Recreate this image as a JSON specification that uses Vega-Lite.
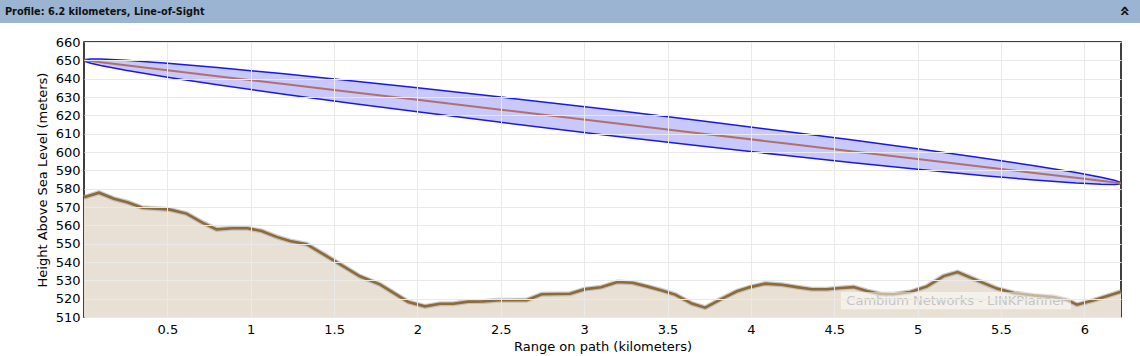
{
  "$schema": "https://vega.github.io/schema/vega-lite/v6.json",
  "padding": 0,
  "background": "white",
  "bounds": "flush",
  "spacing": 19,
  "config": {
    "font": "DejaVu Sans",
    "view": {"stroke": null},
    "axisY": {"labelOverlap": false, "tickCount": 40},
    "axisX": {"labelOverlap": false, "tickCount": 40}
  },
  "datasets": {
    "terrain": [
      {"d": 0, "elev": 575.3}, {"d": 0.09, "elev": 577.8}, {"d": 0.18, "elev": 574.5}, {"d": 0.26, "elev": 572.6},
      {"d": 0.35, "elev": 569.6}, {"d": 0.51, "elev": 568.7}, {"d": 0.615, "elev": 566.4}, {"d": 0.71, "elev": 561.5},
      {"d": 0.795, "elev": 557.8}, {"d": 0.89, "elev": 558.4}, {"d": 0.98, "elev": 558.4}, {"d": 1.065, "elev": 556.9},
      {"d": 1.155, "elev": 553.7}, {"d": 1.235, "elev": 551.5}, {"d": 1.335, "elev": 549.7}, {"d": 1.5, "elev": 540.8},
      {"d": 1.655, "elev": 532.2}, {"d": 1.775, "elev": 527.8}, {"d": 1.945, "elev": 518.2}, {"d": 2.045, "elev": 515.8},
      {"d": 2.135, "elev": 517.2}, {"d": 2.215, "elev": 517.2}, {"d": 2.305, "elev": 518.4}, {"d": 2.395, "elev": 518.5},
      {"d": 2.485, "elev": 519.1}, {"d": 2.655, "elev": 519.2}, {"d": 2.745, "elev": 522.4}, {"d": 2.915, "elev": 522.7},
      {"d": 3.005, "elev": 525.2}, {"d": 3.1, "elev": 526.2}, {"d": 3.2, "elev": 529.1}, {"d": 3.29, "elev": 528.7},
      {"d": 3.376, "elev": 526.7}, {"d": 3.466, "elev": 524.5}, {"d": 3.546, "elev": 522.2}, {"d": 3.646, "elev": 517.3},
      {"d": 3.726, "elev": 515.1}, {"d": 3.816, "elev": 519.5}, {"d": 3.916, "elev": 524.0}, {"d": 3.996, "elev": 526.3},
      {"d": 4.086, "elev": 528.2}, {"d": 4.186, "elev": 527.6}, {"d": 4.276, "elev": 526.3}, {"d": 4.366, "elev": 525.1},
      {"d": 4.456, "elev": 525.1}, {"d": 4.536, "elev": 525.8}, {"d": 4.616, "elev": 526.3}, {"d": 4.696, "elev": 524.2},
      {"d": 4.776, "elev": 522.6}, {"d": 4.856, "elev": 522.4}, {"d": 4.956, "elev": 523.6}, {"d": 5.056, "elev": 526.7},
      {"d": 5.156, "elev": 532.3}, {"d": 5.24, "elev": 534.5}, {"d": 5.357, "elev": 530.0}, {"d": 5.477, "elev": 525.5},
      {"d": 5.576, "elev": 523.1}, {"d": 5.697, "elev": 521.8}, {"d": 5.816, "elev": 520.9}, {"d": 5.896, "elev": 519.3},
      {"d": 5.956, "elev": 516.7}, {"d": 6.056, "elev": 519.1}, {"d": 6.22, "elev": 523.8}
    ],
    "fresnel": [
      {"d": 0, "los": 650, "lo": 650, "hi": 650},
      {"d": 0.01, "los": 649.89, "lo": 649.33, "hi": 650.45},
      {"d": 0.04, "los": 649.57, "lo": 648.45, "hi": 650.69},
      {"d": 0.1, "los": 648.92, "lo": 647.15, "hi": 650.69},
      {"d": 0.25, "los": 647.31, "lo": 644.55, "hi": 650.07},
      {"d": 0.5, "los": 644.61, "lo": 640.79, "hi": 648.43},
      {"d": 0.8, "los": 641.38, "lo": 636.67, "hi": 646.09},
      {"d": 1.2, "los": 637.07, "lo": 631.52, "hi": 642.62},
      {"d": 1.6, "los": 632.76, "lo": 626.61, "hi": 638.91},
      {"d": 2.0, "los": 628.46, "lo": 621.89, "hi": 635.03},
      {"d": 2.5, "los": 623.07, "lo": 616.17, "hi": 629.97},
      {"d": 3.11, "los": 616.5, "lo": 609.47, "hi": 623.53},
      {"d": 3.7, "los": 610.14, "lo": 603.24, "hi": 617.05},
      {"d": 4.2, "los": 604.76, "lo": 598.17, "hi": 611.35},
      {"d": 4.6, "los": 600.45, "lo": 594.28, "hi": 606.62},
      {"d": 5.0, "los": 596.14, "lo": 590.56, "hi": 601.73},
      {"d": 5.4, "los": 591.83, "lo": 587.07, "hi": 596.59},
      {"d": 5.7, "los": 588.6, "lo": 584.71, "hi": 592.49},
      {"d": 5.95, "los": 585.91, "lo": 583.04, "hi": 588.78},
      {"d": 6.1, "los": 584.29, "lo": 582.36, "hi": 586.23},
      {"d": 6.18, "los": 583.43, "lo": 582.31, "hi": 584.55},
      {"d": 6.21, "los": 583.11, "lo": 582.55, "hi": 583.67},
      {"d": 6.22, "los": 583, "lo": 583, "hi": 583}
    ],
    "header": [{"label": "Profile: 6.2 kilometers, Line-of-Sight", "icon": "»"}],
    "wmk": [{"wm": "Cambium Networks - LINKPlanner", "wx": 5.23, "wy": 518.9, "bx1": 4.54, "bx2": 5.92, "by1": 514.2, "by2": 523.6}]
  },
  "vconcat": [
    {
      "width": 1140,
      "height": 23,
      "view": {"fill": "#9ab4d2", "stroke": null},
      "data": {"name": "header"},
      "layer": [
        {
          "mark": {"type": "text", "align": "left", "baseline": "middle", "fontWeight": "bold", "fontSize": 10.8, "font": "DejaVu Sans Condensed", "color": "#111111"},
          "encoding": {"text": {"field": "label"}, "x": {"value": 5}, "y": {"value": 11.5}}
        },
        {
          "mark": {"type": "text", "align": "center", "baseline": "middle", "fontWeight": "bold", "fontSize": 17, "angle": 270, "color": "#111111"},
          "encoding": {"text": {"field": "icon"}, "x": {"value": 1125}, "y": {"value": 11}}
        }
      ]
    },
    {
      "bounds": "flush",
      "spacing": 0,
      "hconcat": [
        {
          "width": 84,
          "height": 275,
          "view": {"stroke": null},
          "data": {"values": []},
          "mark": "text",
          "encoding": {}
        },
        {
          "width": 1037,
          "height": 275,
          "view": {"stroke": "#000000", "strokeWidth": 1.5},
          "encoding": {
            "x": {
              "field": "d", "type": "quantitative",
              "scale": {"domain": [0, 6.22], "nice": false, "zero": false},
              "axis": {
                "title": "Range on path (kilometers)",
                "values": [0.5, 1, 1.5, 2, 2.5, 3, 3.5, 4, 4.5, 5, 5.5, 6],
                "tickCount": 40,
                "format": "~g",
                "labelFontSize": 13, "titleFontSize": 13, "titleFontWeight": "normal",
                "labelColor": "#000000", "titleColor": "#000000",
                "ticks": false, "domain": false, "labelPadding": 6, "titlePadding": 4,
                "gridColor": "#e9e9e9", "zindex": 1
              }
            },
            "y": {
              "field": "elev", "type": "quantitative",
              "scale": {"domain": [510, 660], "nice": false, "zero": false},
              "axis": {
                "title": "Height Above Sea Level (meters)",
                "values": [510, 520, 530, 540, 550, 560, 570, 580, 590, 600, 610, 620, 630, 640, 650, 660],
                "tickCount": 40,
                "labelOverlap": false,
                "labelFontSize": 13, "titleFontSize": 13, "titleFontWeight": "normal",
                "labelColor": "#000000", "titleColor": "#000000",
                "ticks": false, "domain": false, "labelPadding": 4, "titlePadding": 6,
                "gridColor": "#e9e9e9", "zindex": 1
              }
            }
          },
          "layer": [
            {
              "data": {"name": "terrain"},
              "mark": {"type": "area", "color": "#e9e0d5"},
              "encoding": {"y2": {"datum": 510}}
            },
            {
              "data": {"name": "fresnel"},
              "mark": {"type": "area", "color": "#c8c8fa"},
              "encoding": {"y": {"field": "lo", "type": "quantitative"}, "y2": {"field": "hi"}}
            },
            {
              "data": {"name": "terrain"},
              "mark": {"type": "line", "color": "#a8a8a8", "strokeWidth": 5, "opacity": 0.6},
              "encoding": {}
            },
            {
              "data": {"name": "terrain"},
              "mark": {"type": "line", "color": "#8d6a36", "strokeWidth": 2.6},
              "encoding": {}
            },
            {
              "data": {"name": "fresnel"},
              "mark": {"type": "line", "color": "#1818e8", "strokeWidth": 1.5},
              "encoding": {"y": {"field": "hi", "type": "quantitative"}}
            },
            {
              "data": {"name": "fresnel"},
              "mark": {"type": "line", "color": "#1818e8", "strokeWidth": 1.5},
              "encoding": {"y": {"field": "lo", "type": "quantitative"}}
            },
            {
              "data": {"name": "fresnel"},
              "mark": {"type": "line", "color": "#b07268", "strokeWidth": 2},
              "encoding": {"y": {"field": "los", "type": "quantitative"}}
            },
            {
              "data": {"name": "wmk"},
              "mark": {"type": "rect", "color": "#ffffff", "opacity": 0.5},
              "encoding": {
                "x": {"field": "bx1", "type": "quantitative"},
                "x2": {"field": "bx2"},
                "y": {"field": "by1", "type": "quantitative"},
                "y2": {"field": "by2"}
              }
            },
            {
              "data": {"name": "wmk"},
              "mark": {"type": "text", "color": "#c4c4c4", "fontSize": 13, "align": "center", "baseline": "middle"},
              "encoding": {
                "x": {"field": "wx", "type": "quantitative"},
                "y": {"field": "wy", "type": "quantitative"},
                "text": {"field": "wm"}
              }
            }
          ]
        }
      ]
    }
  ]
}
